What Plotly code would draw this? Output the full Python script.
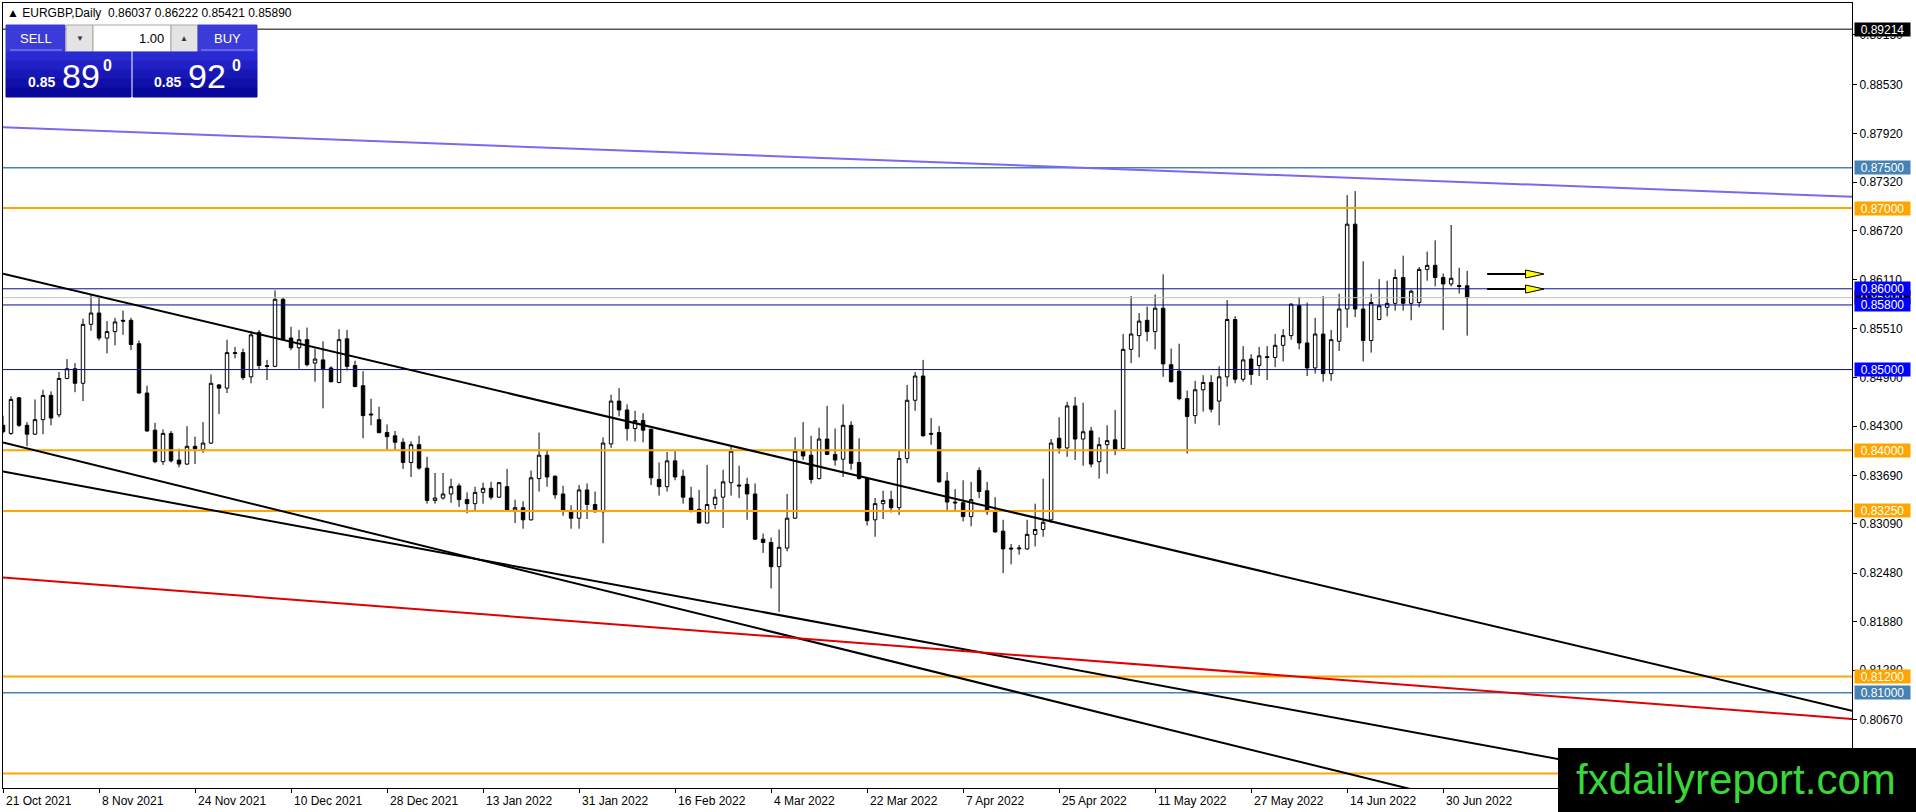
import plotly.graph_objects as go

# EURGBP daily candles, 21 Oct 2021 .. 5 Jul 2022 (one value per trading day)
opens = [0.8431, 0.8421, 0.8465, 0.8431, 0.8420, 0.8438, 0.8468, 0.8444, 0.8489, 0.8501,
         0.8483, 0.8556, 0.8570, 0.8539, 0.8547, 0.8561, 0.8561, 0.8532, 0.8471, 0.8425,
         0.8386, 0.8421, 0.8388, 0.8383, 0.8405, 0.8401, 0.8409, 0.8481, 0.8477, 0.8521,
         0.8521, 0.8491, 0.8546, 0.8505, 0.8504, 0.8587, 0.8539, 0.8527, 0.8537, 0.8508,
         0.8512, 0.8502, 0.8484, 0.8538, 0.8505, 0.8480, 0.8445, 0.8438, 0.8422, 0.8418,
         0.8410, 0.8385, 0.8407, 0.8378, 0.8338, 0.8341, 0.8346, 0.8356, 0.8339, 0.8334,
         0.8348, 0.8353, 0.8342, 0.8355, 0.8326, 0.8329, 0.8314, 0.8365, 0.8394, 0.8368,
         0.8346, 0.8324, 0.8316, 0.8351, 0.8333, 0.8324, 0.8408, 0.8461, 0.8450, 0.8427,
         0.8437, 0.8426, 0.8364, 0.8355, 0.8387, 0.8368, 0.8341, 0.8327, 0.8310, 0.8333,
         0.8342, 0.8360, 0.8357, 0.8358, 0.8346, 0.8290, 0.8286, 0.8256, 0.8279, 0.8316,
         0.8399, 0.8394, 0.8365, 0.8414, 0.8395, 0.8389, 0.8431, 0.8385, 0.8365, 0.8314,
         0.8334, 0.8339, 0.8329, 0.8390, 0.8462, 0.8492, 0.8421, 0.8422, 0.8362, 0.8336,
         0.8335, 0.8318, 0.8375, 0.8350, 0.8325, 0.8300, 0.8279, 0.8278, 0.8278, 0.8296,
         0.8302, 0.8314, 0.8415, 0.8403, 0.8455, 0.8414, 0.8424, 0.8386, 0.8407, 0.8413,
         0.8402, 0.8525, 0.8542, 0.8561, 0.8547, 0.8576, 0.8506, 0.8498, 0.8464, 0.8443,
         0.8475, 0.8484, 0.8461, 0.8491, 0.8562, 0.8488, 0.8513, 0.8505, 0.8516, 0.8515,
         0.8530, 0.8542, 0.8579, 0.8533, 0.8502, 0.8544, 0.8495, 0.8535, 0.8575, 0.8680,
         0.8575, 0.8536, 0.8562, 0.8577, 0.8582, 0.8614, 0.8582, 0.8583, 0.8624, 0.8629,
         0.8614, 0.8606, 0.8604, 0.86037]
highs = [0.8443, 0.8467, 0.8466, 0.8435, 0.8463, 0.8475, 0.8473, 0.8497, 0.8513, 0.8508,
         0.8563, 0.8593, 0.8589, 0.8560, 0.8564, 0.8573, 0.8564, 0.8536, 0.8480, 0.8434,
         0.8426, 0.8424, 0.8402, 0.8430, 0.8417, 0.8435, 0.8494, 0.8482, 0.8537, 0.8528,
         0.8526, 0.8548, 0.8549, 0.8512, 0.8598, 0.8589, 0.8553, 0.8549, 0.8552, 0.8526,
         0.8535, 0.8504, 0.8550, 0.8549, 0.8511, 0.8498, 0.8464, 0.8454, 0.8432, 0.8424,
         0.8415, 0.8411, 0.8418, 0.8392, 0.8372, 0.8372, 0.8365, 0.8359, 0.8348, 0.8355,
         0.8360, 0.8361, 0.8361, 0.8377, 0.8339, 0.8337, 0.8375, 0.8422, 0.8400, 0.8369,
         0.8356, 0.8332, 0.8357, 0.8359, 0.8349, 0.8416, 0.8469, 0.8477, 0.8457, 0.8449,
         0.8446, 0.8427, 0.8385, 0.8398, 0.8399, 0.8376, 0.8355, 0.8351, 0.8382, 0.8352,
         0.8376, 0.8405, 0.8381, 0.8366, 0.8359, 0.8297, 0.8292, 0.8302, 0.8346, 0.8416,
         0.8435, 0.8418, 0.8428, 0.8455, 0.8427, 0.8457, 0.8436, 0.8415, 0.8367, 0.8341,
         0.8350, 0.8350, 0.8400, 0.8481, 0.8497, 0.8512, 0.8440, 0.8430, 0.8373, 0.8352,
         0.8363, 0.8361, 0.8379, 0.8361, 0.8342, 0.8314, 0.8284, 0.8283, 0.8314, 0.8334,
         0.8365, 0.8414, 0.8441, 0.8460, 0.8466, 0.8459, 0.8429, 0.8416, 0.8431, 0.8450,
         0.8544, 0.8591, 0.8570, 0.8578, 0.8593, 0.8618, 0.8526, 0.8532, 0.8474, 0.8486,
         0.8493, 0.8493, 0.8504, 0.8586, 0.8566, 0.8529, 0.8519, 0.8528, 0.8529, 0.8544,
         0.8550, 0.8582, 0.8590, 0.8583, 0.8564, 0.8591, 0.8549, 0.8594, 0.8716, 0.8721,
         0.8634, 0.8594, 0.8612, 0.8610, 0.8624, 0.8641, 0.8599, 0.8627, 0.8646, 0.8660,
         0.8619, 0.8679, 0.8626, 0.86222]
lows = [0.8421, 0.8419, 0.8429, 0.8405, 0.8419, 0.8420, 0.8431, 0.8441, 0.8488, 0.8472,
        0.8461, 0.8548, 0.8536, 0.8520, 0.8530, 0.8543, 0.8524, 0.8470, 0.8423, 0.8384,
        0.8382, 0.8385, 0.8379, 0.8382, 0.8383, 0.8397, 0.8408, 0.8445, 0.8471, 0.8514,
        0.8487, 0.8483, 0.8500, 0.8487, 0.8503, 0.8537, 0.8524, 0.8501, 0.8504, 0.8485,
        0.8452, 0.8484, 0.8483, 0.8499, 0.8478, 0.8415, 0.8431, 0.8421, 0.8401, 0.8400,
        0.8377, 0.8367, 0.8376, 0.8334, 0.8334, 0.8339, 0.8335, 0.8330, 0.8322, 0.8326,
        0.8334, 0.8339, 0.8341, 0.8325, 0.8310, 0.8303, 0.8313, 0.8349, 0.8355, 0.8340,
        0.8319, 0.8303, 0.8303, 0.8315, 0.8323, 0.8285, 0.8403, 0.8442, 0.8412, 0.8411,
        0.8410, 0.8357, 0.8344, 0.8349, 0.8363, 0.8334, 0.8323, 0.8310, 0.8310, 0.8327,
        0.8304, 0.8344, 0.8341, 0.8314, 0.8289, 0.8273, 0.8229, 0.8200, 0.8275, 0.8315,
        0.8388, 0.8359, 0.8364, 0.8394, 0.8381, 0.8367, 0.8376, 0.8364, 0.8307, 0.8293,
        0.8315, 0.8323, 0.8320, 0.8384, 0.8449, 0.8417, 0.8407, 0.8360, 0.8326, 0.8326,
        0.8312, 0.8306, 0.8341, 0.8320, 0.8298, 0.8248, 0.8259, 0.8271, 0.8277, 0.8281,
        0.8293, 0.8310, 0.8396, 0.8392, 0.8388, 0.8381, 0.8379, 0.8365, 0.8371, 0.8394,
        0.8401, 0.8508, 0.8515, 0.8535, 0.8525, 0.8491, 0.8484, 0.8462, 0.8396, 0.8433,
        0.8448, 0.8447, 0.8431, 0.8479, 0.8483, 0.8485, 0.8481, 0.8492, 0.8487, 0.8503,
        0.8510, 0.8537, 0.8525, 0.8492, 0.8495, 0.8485, 0.8486, 0.8523, 0.8552, 0.8565,
        0.8510, 0.8521, 0.8561, 0.8566, 0.8573, 0.8573, 0.8561, 0.8577, 0.8610, 0.8603,
        0.8549, 0.8603, 0.8594, 0.85421]
closes = [0.8423, 0.8463, 0.8431, 0.8420, 0.8438, 0.8468, 0.8440, 0.8489, 0.8501, 0.8483,
          0.8556, 0.8570, 0.8539, 0.8547, 0.8559, 0.8560, 0.8531, 0.8471, 0.8424, 0.8386,
          0.8421, 0.8387, 0.8383, 0.8405, 0.8402, 0.8409, 0.8483, 0.8477, 0.8521, 0.8520,
          0.8490, 0.8543, 0.8505, 0.8504, 0.8587, 0.8537, 0.8527, 0.8537, 0.8506, 0.8513,
          0.8501, 0.8485, 0.8537, 0.8504, 0.8479, 0.8443, 0.8444, 0.8422, 0.8417, 0.8410,
          0.8385, 0.8407, 0.8378, 0.8338, 0.8341, 0.8346, 0.8355, 0.8339, 0.8334, 0.8348,
          0.8353, 0.8342, 0.8360, 0.8326, 0.8329, 0.8314, 0.8366, 0.8394, 0.8367, 0.8345,
          0.8326, 0.8316, 0.8351, 0.8333, 0.8324, 0.8409, 0.8461, 0.8450, 0.8427, 0.8437,
          0.8425, 0.8366, 0.8355, 0.8387, 0.8367, 0.8342, 0.8326, 0.8310, 0.8333, 0.8342,
          0.8361, 0.8399, 0.8356, 0.8346, 0.8290, 0.8286, 0.8256, 0.8280, 0.8316, 0.8399,
          0.8393, 0.8364, 0.8414, 0.8395, 0.8388, 0.8431, 0.8384, 0.8365, 0.8313, 0.8334,
          0.8338, 0.8329, 0.8390, 0.8462, 0.8492, 0.8418, 0.8420, 0.8361, 0.8336, 0.8335,
          0.8318, 0.8339, 0.8349, 0.8324, 0.8299, 0.8278, 0.8278, 0.8279, 0.8296, 0.8302,
          0.8311, 0.8409, 0.8403, 0.8455, 0.8414, 0.8423, 0.8383, 0.8407, 0.8412, 0.8401,
          0.8525, 0.8544, 0.8560, 0.8547, 0.8576, 0.8507, 0.8485, 0.8464, 0.8442, 0.8475,
          0.8484, 0.8451, 0.8491, 0.8562, 0.8488, 0.8512, 0.8494, 0.8517, 0.8515, 0.8530,
          0.8542, 0.8581, 0.8533, 0.8502, 0.8544, 0.8495, 0.8537, 0.8575, 0.8680, 0.8575,
          0.8536, 0.8583, 0.8579, 0.8582, 0.8614, 0.8582, 0.8597, 0.8624, 0.8629, 0.8614,
          0.8606, 0.8613, 0.8603, 0.85890]
bars = list(range(len(opens)))

date_labels = ['21 Oct 2021', '8 Nov 2021', '24 Nov 2021', '10 Dec 2021', '28 Dec 2021',
               '13 Jan 2022', '31 Jan 2022', '16 Feb 2022', '4 Mar 2022', '22 Mar 2022',
               '7 Apr 2022', '25 Apr 2022', '11 May 2022', '27 May 2022', '14 Jun 2022',
               '30 Jun 2022']
label_bars = list(range(0, 12 * len(date_labels), 12))

# the 0.80070 tick sits under the watermark in the original, so it is left out
price_ticks = [0.89150, 0.88530, 0.87920, 0.87320, 0.86720, 0.86110, 0.85510, 0.84900,
               0.84300, 0.83690, 0.83090, 0.82480, 0.81880, 0.81280, 0.80670]

# horizontal levels: (price, line colour, line width, label colour)
levels = [
    (0.85890, '#c0c0c0', 1, 'black'),
    (0.89214, 'black', 1, 'black'),
    (0.87500, '#4682b4', 1.5, '#4682b4'),
    (0.87000, '#ffa500', 2, '#ffa500'),
    (0.86000, '#0b0b9c', 1, '#0000ff'),
    (0.85800, '#0b0b9c', 1, '#0000ff'),
    (0.85000, '#0b0b9c', 1, '#0000ff'),
    (0.84000, '#ffa500', 2, '#ffa500'),
    (0.83250, '#ffa500', 2, '#ffa500'),
    (0.81200, '#ffa500', 2, '#ffa500'),
    (0.81000, '#4682b4', 1.5, '#4682b4'),
    (0.80000, '#ffa500', 2, None),
]

# trend lines: (bar0, price0, bar1, price1, colour)
X_END = 231.1
trend_lines = [
    (0, 0.88001, X_END, 0.87140, '#7b68ee'),
    (0, 0.86186, X_END, 0.80777, 'black'),
    (0, 0.84098, X_END, 0.78461, 'black'),
    (0, 0.83737, X_END, 0.79506, 'black'),
    (0, 0.82426, X_END, 0.80674, '#e00000'),
]

arrow_prices = [0.86183, 0.85997]
arrow_bars = (185.5, 190.3, 192.6)

Y_MIN, Y_MAX = 0.79820, 0.89538
FONT = 'Liberation Sans, Arial, sans-serif'

# plot area in pixels (for the trade panel and watermark)
PL, PR, PT, PB = 3, 1852, 3, 788


def px_x(x):
    return (x - PL) / (PR - PL)


def px_y(y):
    return 1 - (y - PT) / (PB - PT)


fig = go.Figure(go.Candlestick(
    x=bars, open=opens, high=highs, low=lows, close=closes,
    increasing=dict(line=dict(color='black', width=1), fillcolor='white'),
    decreasing=dict(line=dict(color='black', width=1), fillcolor='black'),
    whiskerwidth=0, hoverinfo='skip',
))

shapes = []
annotations = []

for price, color, width, label_color in levels:
    shapes.append(dict(type='line', xref='paper', yref='y', x0=0, x1=1, y0=price, y1=price,
                       line=dict(color=color, width=width)))

for b0, p0, b1, p1, color in trend_lines:
    shapes.append(dict(type='line', xref='x', yref='y', x0=b0, y0=p0, x1=b1, y1=p1,
                       line=dict(color=color, width=2)))

for p in arrow_prices:
    shapes.append(dict(type='line', xref='x', yref='y', x0=arrow_bars[0], x1=arrow_bars[1],
                       y0=p, y1=p, line=dict(color='black', width=2)))
    shapes.append(dict(type='path', xref='x', yref='y',
                       path=f'M {arrow_bars[1]},{p + 0.0005} L {arrow_bars[2]},{p} '
                            f'L {arrow_bars[1]},{p - 0.0005} Z',
                       fillcolor='#ffff00', line=dict(color='black', width=1)))

# price labels on the right scale
for price, color, width, label_color in levels:
    if label_color is None:
        continue
    annotations.append(dict(xref='paper', yref='y', x=1, y=price, xanchor='left', xshift=2,
                            text=f'{price:.5f}', showarrow=False, bgcolor=label_color,
                            width=54, height=12, borderpad=0.5, align='center',
                            font=dict(family=FONT, size=12, color='white')))

# date labels start at their tick, as in MT4
for b, t in zip(label_bars, date_labels):
    annotations.append(dict(xref='x', yref='paper', x=b, y=0, xanchor='left', yanchor='top',
                            xshift=1, yshift=-4, text=t, showarrow=False,
                            font=dict(family=FONT, size=12, color='black')))

header = (f'▲ EURGBP,Daily&nbsp; {opens[-1]:.5f} {highs[-1]:.5f} '
          f'{lows[-1]:.5f} {closes[-1]:.5f}')
annotations.append(dict(xref='paper', yref='paper', x=px_x(5), y=px_y(13), xanchor='left',
                        yanchor='middle', text=header, showarrow=False,
                        font=dict(family=FONT, size=12, color='black')))

# one-click trading panel
panel_blue = '#3b3bd9'
panel = [
    (6, 25, 65, 52, panel_blue, panel_blue),
    (66, 25, 93, 52, '#e4e4e4', '#a8a8a8'),
    (93, 25, 171, 52, 'white', '#a8a8a8'),
    (171, 25, 198, 52, '#e4e4e4', '#a8a8a8'),
    (198, 25, 257, 52, panel_blue, panel_blue),
]
bands = ['#2a2ad2', '#2020c4', '#1818b6', '#1010a8', '#08089c']
for x0, x1 in [(6, 131), (133, 257)]:
    for i, c in enumerate(bands):
        panel.append((x0, 52 + 9 * i, x1, 61 + 9 * i, c, c))
for x0, y0, x1, y1, fill, edge in panel:
    shapes.append(dict(type='rect', xref='paper', yref='paper', x0=px_x(x0), x1=px_x(x1),
                       y0=px_y(y1), y1=px_y(y0), fillcolor=fill, line=dict(color=edge, width=1)))
for x0, x1 in [(10, 62), (201, 254)]:
    shapes.append(dict(type='line', xref='paper', yref='paper', x0=px_x(x0), x1=px_x(x1),
                       y0=px_y(50), y1=px_y(50), line=dict(color='#8f8ff2', width=1)))

panel_text = [
    (36, 39, 'SELL', 13, 'white', 'center'),
    (227, 39, 'BUY', 13, 'white', 'center'),
    (166, 39, '1.00', 13, 'black', 'right'),
    (80, 39, '▼', 8, '#333333', 'center'),
    (184, 39, '▲', 8, '#333333', 'center'),
    (41, 82, '<b>0.85</b>', 14, 'white', 'center'),
    (81, 76, '89', 34, 'white', 'center'),
    (107, 66, '<b>0</b>', 16, 'white', 'center'),
    (167, 82, '<b>0.85</b>', 14, 'white', 'center'),
    (207, 76, '92', 34, 'white', 'center'),
    (236, 66, '<b>0</b>', 16, 'white', 'center'),
]
for x, y, t, size, color, anchor in panel_text:
    annotations.append(dict(xref='paper', yref='paper', x=px_x(x), y=px_y(y), xanchor=anchor,
                            yanchor='middle', text=t, showarrow=False,
                            font=dict(family=FONT, size=size, color=color)))

# watermark box
shapes.append(dict(type='rect', xref='paper', yref='paper', x0=px_x(1558), x1=px_x(1920),
                   y0=px_y(815), y1=px_y(748), fillcolor='black', line=dict(width=0)))
annotations.append(dict(xref='paper', yref='paper', x=px_x(1736), y=px_y(779),
                        xanchor='center', yanchor='middle', text='fxdailyreport.com',
                        showarrow=False, font=dict(family=FONT, size=42, color='#38d838')))

fig.update_layout(
    width=1916, height=812,
    margin=dict(l=PL, r=1916 - PR, t=PT, b=812 - PB),
    paper_bgcolor='white', plot_bgcolor='white',
    showlegend=False, boxgap=0.38,
    shapes=shapes, annotations=annotations,
    xaxis=dict(range=[0, X_END], showgrid=False, zeroline=False, showline=True, mirror=True,
               linecolor='black', linewidth=1, tickvals=label_bars, ticks='outside', ticklen=4,
               tickcolor='black', showticklabels=False, rangeslider=dict(visible=False),
               fixedrange=True),
    yaxis=dict(range=[Y_MIN, Y_MAX], side='right', showgrid=False, zeroline=False,
               showline=True, mirror=True, linecolor='black', linewidth=1,
               tickvals=price_ticks, tickformat='.5f', ticks='outside', ticklen=4,
               tickcolor='black', tickfont=dict(family=FONT, size=12, color='black'),
               fixedrange=True),
)

fig.write_html('out.html', config={'displayModeBar': False},
               post_script="document.body.style.margin='0';document.body.style.overflow='hidden';")
